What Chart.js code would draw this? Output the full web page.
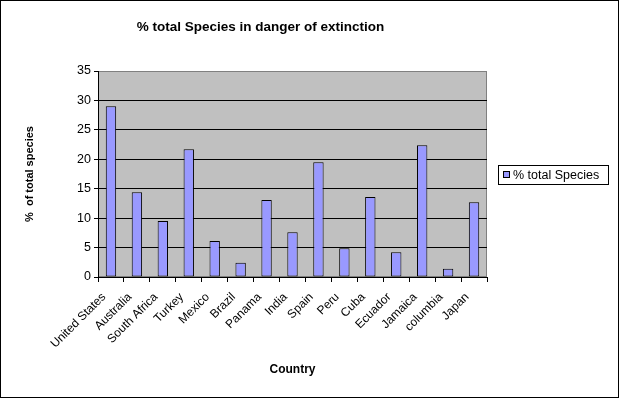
<!DOCTYPE html>
<html><head><meta charset="utf-8">
<script src="https://cdn.jsdelivr.net/npm/chart.js@4/dist/chart.umd.min.js"></script>
<style>html,body{margin:0;padding:0;background:#fff;}canvas{display:block;}</style>
</head><body>
<canvas id="c" width="619" height="398"></canvas>
<script>
const categories = ['United States','Australia','South Africa','Turkey','Mexico','Brazil','Panama','India','Spain','Peru','Cuba','Ecuador','Jamaica','columbia','Japan'];
const speciesValues = [29.0, 14.4, 9.5, 21.7, 6.1, 2.4, 13.1, 7.6, 19.5, 4.9, 13.6, 4.2, 22.4, 1.4, 12.7];
const seriesLabel = '% total Species';
const chartTitle = '% total Species in danger of extinction';
const xTitle = 'Country';
const yTitle = '%  of total species';
const yMin = 0, yMax = 35, yStep = 5;

const FONT = "'Liberation Sans', Arial, sans-serif";

const frame = {
  id: 'frame',
  beforeDraw(chart) {
    const ctx = chart.ctx, a = chart.chartArea;
    ctx.save();
    ctx.fillStyle = '#fff';
    ctx.fillRect(0, 0, chart.width, chart.height);
    ctx.fillStyle = '#C0C0C0';
    ctx.fillRect(a.left, a.top, a.right - a.left, a.bottom - a.top);
    ctx.strokeStyle = '#808080';
    ctx.lineWidth = 1;
    ctx.strokeRect(Math.round(a.left) + 0.5, Math.round(a.top) + 0.5, Math.round(a.right - a.left) - 1, Math.round(a.bottom - a.top) - 1);
    // chart title
    ctx.fillStyle = '#000';
    ctx.font = 'bold 13.5px ' + FONT;
    ctx.textAlign = 'center';
    ctx.textBaseline = 'alphabetic';
    ctx.fillText(chartTitle, 260.5, 31);
    ctx.restore();
  },
  afterDraw(chart) {
    const ctx = chart.ctx;
    ctx.save();
    ctx.strokeStyle = '#000';
    ctx.lineWidth = 1;
    ctx.strokeRect(0.5, 0.5, chart.width - 1, chart.height - 1);
    // legend box
    const ds = chart.data.datasets[0];
    ctx.fillStyle = '#fff';
    ctx.fillRect(498.5, 165.5, 110, 19);
    ctx.strokeRect(498.5, 165.5, 110, 19);
    ctx.fillStyle = ds.backgroundColor;
    ctx.fillRect(503.5, 171.5, 6, 6);
    ctx.strokeRect(503.5, 171.5, 6, 6);
    ctx.fillStyle = '#000';
    ctx.font = '12.5px ' + FONT;
    ctx.textBaseline = 'alphabetic';
    ctx.textAlign = 'left';
    ctx.fillText(ds.label, 513, 178.5);
    ctx.restore();
  }
};

new Chart(document.getElementById('c'), {
  type: 'bar',
  data: {
    labels: categories,
    datasets: [{
      label: seriesLabel,
      data: speciesValues,
      backgroundColor: '#9999FF',
      borderColor: '#000000',
      borderWidth: 1,
      borderSkipped: false,
      barPercentage: 0.4,
      categoryPercentage: 1.0
    }]
  },
  options: {
    responsive: false,
    animation: false,
    devicePixelRatio: 1,
    layout: { padding: { left: 0, right: 132, top: 71, bottom: 0 } },
    plugins: {
      legend: { display: false },
      tooltip: { enabled: false },
      title: { display: false }
    },
    scales: {
      x: {
        grid: { display: true, drawOnChartArea: false, drawTicks: true, tickLength: 5, color: '#000', tickColor: '#000', offset: true },
        border: { display: true, color: '#000', width: 1 },
        ticks: { color: '#000', font: { family: FONT, size: 12 }, minRotation: 45, maxRotation: 45, autoSkip: false, padding: 8, labelOffset: -7 },
        title: { display: true, text: xTitle, color: '#000', font: { family: FONT, size: 12, weight: 'bold', lineHeight: 1.2 }, padding: { top: 0, bottom: 21 } },
        afterFit(scale) { scale.height = 121; }
      },
      y: {
        min: yMin, max: yMax,
        grid: {
          color: (c) => (c.tick && c.tick.value === yMax) ? '#808080' : '#000',
          tickColor: '#000',
          lineWidth: 1, drawTicks: true, tickLength: 4
        },
        border: { display: true, color: '#000', width: 1 },
        ticks: { stepSize: yStep, color: '#000', font: { family: FONT, size: 12.5 }, padding: 3 },
        title: { display: true, text: yTitle, color: '#000', font: { family: FONT, size: 11, weight: 'bold', lineHeight: 1.2 }, padding: { top: 23, bottom: 0 } },
        afterFit(scale) { scale.width = 98; }
      }
    }
  },
  plugins: [frame]
});
</script>
</body></html>
